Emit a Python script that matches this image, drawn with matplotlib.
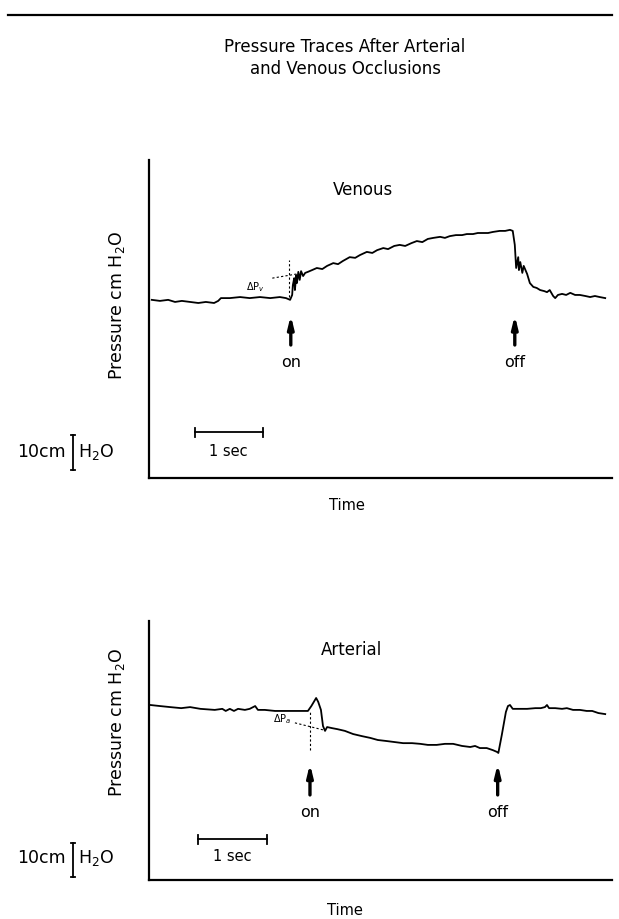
import matplotlib
matplotlib.use("Agg")
import matplotlib.pyplot as plt

plt.rcParams['font.family'] = ['DejaVu Sans']

# ---------------- data (time in s, pressure in cm H2O) ----------------
venous_t = [0.04, 0.16, 0.28, 0.38, 0.48, 0.60, 0.72, 0.83, 0.95, 1.01, 1.05, 1.18,
            1.33, 1.47, 1.62, 1.77, 1.91, 2.00, 2.06, 2.09, 2.10, 2.12, 2.13, 2.15,
            2.16, 2.18, 2.20, 2.22, 2.25, 2.28, 2.32, 2.38, 2.45, 2.53, 2.60, 2.69,
            2.76, 2.83, 2.93, 3.01, 3.08, 3.18, 3.26, 3.33, 3.42, 3.49, 3.58, 3.66,
            3.74, 3.83, 3.91, 3.99, 4.07, 4.15, 4.25, 4.32, 4.39, 4.48, 4.57, 4.64,
            4.73, 4.80, 4.88, 4.95, 5.02, 5.12, 5.20, 5.27, 5.31, 5.34, 5.36, 5.39,
            5.40, 5.42, 5.45, 5.47, 5.52, 5.56, 5.61, 5.66, 5.71, 5.77, 5.81, 5.85,
            5.90, 5.93, 5.97, 6.03, 6.09, 6.15, 6.22, 6.29, 6.37, 6.44, 6.51, 6.58,
            6.66]
venous_p = [50.9, 50.6, 50.9, 50.3, 50.6, 50.3, 50.0, 50.3, 50.0, 50.6, 51.4, 51.4,
            51.7, 51.4, 51.7, 51.4, 51.7, 51.4, 50.9, 52.3, 55.1, 57.1, 53.7, 58.0,
            55.7, 58.9, 56.6, 59.1, 57.7, 58.6, 58.9, 59.4, 60.0, 59.7, 60.6, 61.4,
            61.1, 62.0, 63.1, 62.9, 63.7, 64.6, 64.3, 65.1, 65.7, 65.4, 66.3, 66.6,
            66.3, 67.1, 67.7, 67.4, 68.3, 68.6, 68.9, 68.6, 69.1, 69.4, 69.4, 69.7,
            69.7, 70.0, 70.0, 70.0, 70.3, 70.6, 70.6, 70.9, 70.6, 66.6, 60.0, 63.1,
            59.4, 61.7, 58.6, 60.6, 58.3, 55.7, 54.6, 54.3, 53.7, 53.4, 53.1, 53.7,
            52.0, 51.4, 52.3, 52.6, 52.3, 52.9, 52.3, 52.3, 52.0, 51.7, 52.0, 51.7,
            51.4]

arterial_t = [0.02, 0.16, 0.31, 0.47, 0.60, 0.75, 0.96, 1.07, 1.12, 1.18, 1.24, 1.30,
              1.40, 1.47, 1.55, 1.59, 1.69, 1.84, 2.06, 2.20, 2.32, 2.37, 2.44, 2.47,
              2.51, 2.54, 2.57, 2.60, 2.67, 2.75, 2.86, 2.98, 3.11, 3.23, 3.34, 3.47,
              3.59, 3.71, 3.84, 3.96, 4.07, 4.20, 4.32, 4.44, 4.57, 4.69, 4.76, 4.83,
              4.93, 5.02, 5.08, 5.10, 5.15, 5.21, 5.24, 5.27, 5.31, 5.42, 5.52, 5.64,
              5.72, 5.78, 5.81, 5.84, 5.93, 6.03, 6.10, 6.19, 6.29, 6.39, 6.47, 6.56,
              6.66]
arterial_p = [50.0, 49.7, 49.4, 49.1, 49.4, 48.9, 48.6, 48.9, 48.3, 48.9, 48.3, 48.9,
              48.6, 48.9, 49.7, 48.6, 48.6, 48.3, 48.3, 48.3, 48.3, 49.7, 52.0, 50.9,
              48.6, 44.0, 42.6, 43.7, 43.4, 43.1, 42.6, 41.7, 41.1, 40.6, 40.0, 39.7,
              39.4, 39.1, 39.1, 38.9, 38.6, 38.6, 38.9, 38.9, 38.3, 38.0, 38.3, 37.7,
              37.7, 37.1, 36.6, 36.3, 41.4, 48.0, 49.7, 50.0, 48.9, 48.9, 48.9, 49.1,
              49.1, 49.4, 50.0, 49.1, 49.1, 48.9, 49.1, 48.6, 48.6, 48.3, 48.3, 47.7,
              47.4]

venous_on_off = [2.07, 5.34]
arterial_on_off = [2.35, 5.09]
event_labels = ["on", "off"]

title = "Pressure Traces After Arterial\nand Venous Occlusions"
ylabel = "Pressure cm H$_2$O"
xlabel = "Time"

# ---------------- figure ----------------
W, H = 619, 919
fig = plt.figure(figsize=(W / 100, H / 100), dpi=100)

PX_PER_S = 68.5
PX_PER_CM = 3.5
left_px, right_px = 149, 612

def make_axes(top_px, bottom_px):
    ax = fig.add_axes([left_px / W, 1 - bottom_px / H,
                       (right_px - left_px) / W, (bottom_px - top_px) / H])
    ax.set_xlim(0, (right_px - left_px) / PX_PER_S)
    ax.set_ylim(0, (bottom_px - top_px) / PX_PER_CM)
    for s in ['top', 'right']:
        ax.spines[s].set_visible(False)
    for s in ['left', 'bottom']:
        ax.spines[s].set_linewidth(1.6)
    ax.set_xticks([])
    ax.set_yticks([])
    ax.patch.set_alpha(0)
    return ax

ax1 = make_axes(160, 478)
ax2 = make_axes(621, 880)

# top rule and title
fig.add_artist(plt.Line2D([8 / W, 612 / W], [1 - 15 / H, 1 - 15 / H], color='black', lw=1.6))
fig.text(345 / W, 1 - 58 / H, title, ha='center', va='center', fontsize=12, linespacing=1.35)

def arrow(ax, t, y0, y1):
    ax.annotate('', xy=(t, y1), xytext=(t, y0),
                arrowprops=dict(arrowstyle='-|>,head_length=0.7,head_width=0.17',
                                color='black', lw=2.4, shrinkA=0, shrinkB=0))

def scale_bars(ax, bar_y, txt_y, t0, t1, cm_y0, cm_y1, label_y):
    ax.plot([t0, t1], [bar_y, bar_y], color='black', lw=1.3)
    for t in (t0, t1):
        ax.plot([t, t], [bar_y - 1.3, bar_y + 1.3], color='black', lw=1.3)
    ax.text((t0 + t1) / 2, txt_y, "1 sec", ha='center', va='center', fontsize=10.5)
    bx = -1.11
    cap = 0.035
    ax.plot([bx, bx], [cm_y0, cm_y1], color='black', lw=1.3, clip_on=False)
    for yy in (cm_y0, cm_y1):
        ax.plot([bx - cap, bx + cap], [yy, yy], color='black', lw=1.3, clip_on=False)
    ax.text(bx - 0.10, label_y, "10cm", ha='right', va='center', fontsize=12.5, clip_on=False)
    ax.text(bx + 0.08, label_y, "H$_2$O", ha='left', va='center', fontsize=12.5, clip_on=False)

# ---------------- Venous ----------------
ax1.plot(venous_t, venous_p, color='black', lw=1.3)
ax1.plot([1.80, 2.16], [57.1, 58.3], color='black', lw=0.8, ls=(0, (2, 2)))
ax1.plot([2.04, 2.04], [51.7, 62.3], color='black', lw=0.8, ls=(0, (2, 2)))
ax1.text(1.55, 54.6, r"$\Delta$P$_v$", ha='center', va='center', fontsize=7)
ax1.text(3.12, 82.3, "Venous", ha='center', va='center', fontsize=12)
for t, lab in zip(venous_on_off, event_labels):
    arrow(ax1, t, 38.0, 46.5)
    ax1.text(t, 32.9, lab, ha='center', va='center', fontsize=11.5)
scale_bars(ax1, 13.1, 7.7, 0.67, 1.66, 2.3, 12.3, 7.4)
ax1.set_ylabel(ylabel, fontsize=12.5)
ax1.yaxis.set_label_coords(-0.048, 0.544)
ax1.set_xlabel(xlabel, fontsize=10.5)
ax1.xaxis.set_label_coords(0.428, -0.064)

# ---------------- Arterial ----------------
ax2.plot(arterial_t, arterial_p, color='black', lw=1.3)
ax2.plot([2.13, 2.54], [44.9, 42.9], color='black', lw=0.8, ls=(0, (2, 2)))
ax2.plot([2.35, 2.35], [37.1, 48.3], color='black', lw=0.8, ls=(0, (2, 2)))
ax2.text(1.94, 45.9, r"$\Delta$P$_a$", ha='center', va='center', fontsize=7)
ax2.text(2.96, 65.7, "Arterial", ha='center', va='center', fontsize=12)
for t, lab in zip(arterial_on_off, event_labels):
    arrow(ax2, t, 24.3, 33.2)
    ax2.text(t, 19.4, lab, ha='center', va='center', fontsize=11.5)
scale_bars(ax2, 11.7, 6.6, 0.72, 1.72, 0.9, 10.6, 6.3)
ax2.set_ylabel(ylabel, fontsize=12.5)
ax2.yaxis.set_label_coords(-0.048, 0.61)
ax2.set_xlabel(xlabel, fontsize=10.5)
ax2.xaxis.set_label_coords(0.423, -0.088)

fig.savefig("out.png", dpi=100)
